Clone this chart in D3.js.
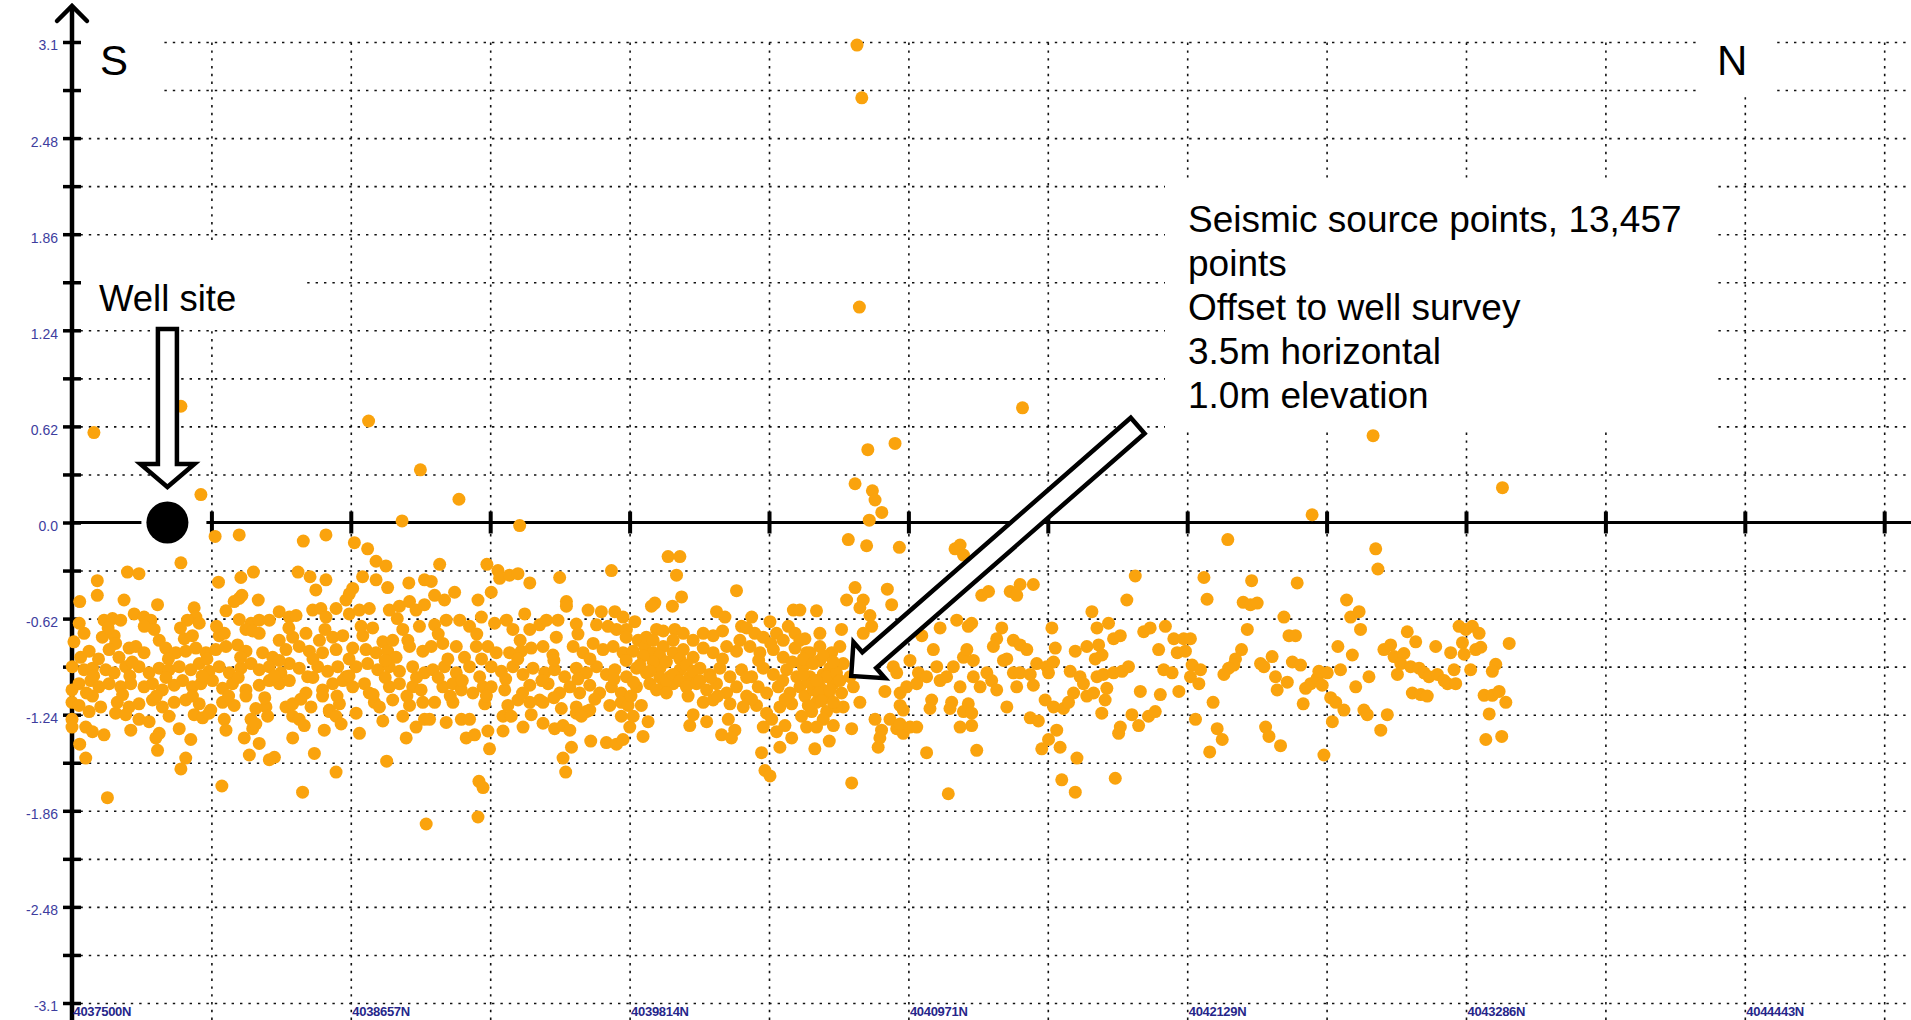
<!DOCTYPE html>
<html><head><meta charset="utf-8">
<script src="https://cdn.jsdelivr.net/npm/d3@7"></script>
<style>
html,body{margin:0;padding:0;background:#fff;overflow:hidden}
svg{display:block}
</style></head><body>
<svg id="chart" width="1911" height="1020"></svg>
<script>
// ---------------- DATA ----------------
// x values: metres north of 4037500N ; y values: offset (m)
const xTickLabels = ["4037500N","4038657N","4039814N","4040971N","4042129N","4043286N","4044443N"];
const xLabelValues = [0,1157.1,2314.3,3471.4,4628.6,5785.7,6942.9];
const xGridValues = [578.6,1157.1,1735.7,2314.3,2892.9,3471.4,4050,4628.6,5207.1,5785.7,6364.3,6942.9,7521.4];
const yTickLabels = ["3.1","2.48","1.86","1.24","0.62","0.0","-0.62","-1.24","-1.86","-2.48","-3.1"];
const yTickValues = [3.1,2.48,1.86,1.24,0.62,0,-0.62,-1.24,-1.86,-2.48,-3.1];
const yGridValues = [3.1,2.79,2.48,2.17,1.86,1.55,1.24,0.93,0.62,0.31,0,-0.31,-0.62,-0.93,-1.24,-1.55,-1.86,-2.17,-2.48,-2.79,-3.1];
const compassLabels = ["S","N"];
const wellSite = [396, 0];
const wellLabel = "Well site";
const noteLines = ["Seismic source points, 13,457","points","Offset to well survey","3.5m horizontal","1.0m elevation"];
const noteArrowTip = [3234, -0.99];
const noteArrowTail = [4423, 0.625];

const pointsScatter = [[3258,3.08],[3278,2.74],[3268,1.39],[91,0.58],[452,0.75],[535,0.18],[1231,0.655],[1446,0.34],[1370,0.01],[1606,0.15],[1858,-0.02],[3945,0.74],[3303,0.47],[3416,0.51],[3250,0.25],[3322,0.205],[3333,0.145],[3361,0.065],[3309,0.015],[3222,-0.11],[3298,-0.15],[3434,-0.16],[3665,-0.17],[3686,-0.145],[3700,-0.21],[4413,-0.345],[4378,-0.50],[4797,-0.11],[5147,0.05],[5400,0.56],[5937,0.225],[5411,-0.17],[5420,-0.30]];

const pointsSouth = [[594,-0.09],[694,-0.08],[960,-0.12],[1054,-0.08],[1172,-0.13],[1227,-0.17],[452,-0.26],[230,-0.32],[278,-0.33],[105,-0.375],[105,-0.47],[32,-0.51],[608,-0.385],[701,-0.355],[753,-0.32],[938,-0.32],[988,-0.35],[1054,-0.37],[1262,-0.25],[1303,-0.28],[1206,-0.35],[1262,-0.37],[1310,-0.42],[1398,-0.39],[1463,-0.37],[216,-0.50],[355,-0.53],[694,-0.49],[705,-0.47],[773,-0.50],[673,-0.51],[639,-0.57],[507,-0.55],[1012,-0.435],[1165,-0.425],[1151,-0.46],[1137,-0.50],
[133,-0.63],[168,-0.62],[202,-0.63],[258,-0.59],[299,-0.61],[327,-0.63],[514,-0.61],[479,-0.63],[528,-0.65],[694,-0.625],[743,-0.65],[777,-0.63],[819,-0.63],[860,-0.575],[902,-0.61],[930,-0.60],[999,-0.565],[1033,-0.555],[1054,-0.61],[1096,-0.555],[1151,-0.59],[1193,-0.565],[1234,-0.555],[1317,-0.565],[1359,-0.54],[1401,-0.51],[1428,-0.565],[1463,-0.53],
[8,-0.77],[50,-0.715],[126,-0.74],[175,-0.73],[181,-0.78],[341,-0.69],[362,-0.76],[466,-0.75],[500,-0.73],[611,-0.73],[632,-0.715],[722,-0.69],[777,-0.715],[860,-0.76],[916,-0.74],[971,-0.715],[1027,-0.76],[1082,-0.74],[1124,-0.73],[1207,-0.73],[1248,-0.68],[1290,-0.77],[1331,-0.76],[1373,-0.69],[1394,-0.76],[1442,-0.67],
[36,-0.87],[71,-0.83],[154,-0.82],[195,-0.87],[237,-0.81],[265,-0.80],[299,-0.84],[389,-0.81],[431,-0.84],[472,-0.83],[514,-0.81],[556,-0.84],[597,-0.82],[639,-0.80],[687,-0.79],[722,-0.83],[791,-0.84],[833,-0.87],[888,-0.82],[943,-0.80],[985,-0.83],[1040,-0.84],[1096,-0.82],[1165,-0.81],[1220,-0.82],[1262,-0.84],[1310,-0.83],[1345,-0.87],[1401,-0.80],[1456,-0.83],
[1,-0.93],[50,-0.95],[85,-0.94],[140,-0.95],[175,-0.97],[223,-0.93],[278,-0.93],[320,-0.97],[362,-0.94],[403,-0.95],[445,-0.93],[493,-0.95],[528,-0.91],[569,-0.96],[611,-0.93],[653,-0.97],[701,-0.94],[743,-0.91],[777,-0.95],[819,-0.93],[867,-0.97],[902,-0.91],[943,-0.94],[978,-0.995],[1020,-0.93],[1061,-0.96],[1103,-0.93],[1137,-0.995],[1179,-0.93],[1227,-0.91],[1269,-0.95],[1317,-0.93],[1359,-0.96],[1414,-0.93],[1463,-0.97],
[0,-1.08],[29,-1.04],[78,-1.02],[112,-1.06],[154,-1.04],[202,-1.06],[244,-1.04],[299,-1.06],[334,-1.04],[375,-1.08],[424,-1.05],[459,-1.02],[500,-1.06],[535,-1.04],[583,-1.02],[625,-1.07],[666,-1.04],[722,-1.08],[777,-1.05],[819,-1.02],[860,-1.04],[902,-1.02],[971,-1.10],[1040,-1.08],[1082,-1.04],[1124,-1.02],[1165,-1.06],[1214,-1.04],[1234,-1.10],[1317,-1.06],[1359,-1.04],[1414,-1.06],[1449,-1.08],
[0,-1.16],[29,-1.18],[85,-1.12],[119,-1.19],[188,-1.16],[237,-1.19],[278,-1.17],[334,-1.145],[375,-1.19],[424,-1.16],[472,-1.145],[528,-1.17],[576,-1.21],[625,-1.16],[673,-1.18],[722,-1.12],[763,-1.20],[805,-1.19],[888,-1.19],[916,-1.17],[992,-1.19],[1040,-1.12],[1068,-1.21],[1110,-1.17],[1255,-1.16],[1276,-1.19],[1331,-1.145],[1401,-1.18],[1456,-1.16],
[0,-1.27],[0,-1.32],[71,-1.22],[57,-1.32],[85,-1.35],[133,-1.37],[181,-1.23],[223,-1.24],[244,-1.34],[278,-1.27],[320,-1.285],[362,-1.36],[348,-1.39],[403,-1.25],[445,-1.33],[507,-1.24],[542,-1.26],[569,-1.23],[632,-1.27],[639,-1.34],[743,-1.27],[750,-1.33],[763,-1.30],[812,-1.25],[916,-1.25],[943,-1.27],[964,-1.31],[1047,-1.34],[1068,-1.22],[1096,-1.25],[1117,-1.30],[1179,-1.23],[1193,-1.36],[1290,-1.28],[1373,-1.25],[1428,-1.32],[1463,-1.27],
[32,-1.43],[57,-1.52],[147,-1.775],[355,-1.47],[452,-1.59],[472,-1.52],[493,-1.40],[622,-1.70],[715,-1.39],[736,-1.50],[777,-1.425],[819,-1.53],[840,-1.515],[916,-1.39],[957,-1.74],[1006,-1.49],[1096,-1.61],[1306,-1.54],[1387,-1.39],[1470,-1.945]];

const pointsCentral = [[1526,-0.27],[1491,-0.38],[1722,-0.27],[1768,-0.31],[1775,-0.36],[1816,-0.34],[1851,-0.33],[1900,-0.39],[2024,-0.355],[2239,-0.31],[2474,-0.22],[2523,-0.22],[2509,-0.34],[2530,-0.48],[2492,-0.54],[2419,-0.52],[2405,-0.54],[2758,-0.44],[1685,-0.50],[1740,-0.45],[1505,-0.47],[1588,-0.45],[1546,-0.50],[2052,-0.51],[2052,-0.54],[1879,-0.59],[2142,-0.565],[2197,-0.575],[2253,-0.575],[2287,-0.61],[2093,-0.655],[2336,-0.64],[2675,-0.575],[2710,-0.61],[2821,-0.61],[2897,-0.64],[2994,-0.565],[2779,-0.67],[2834,-0.715],[2973,-0.67],
[1505,-0.66],[1553,-0.63],[1609,-0.63],[1650,-0.67],[1699,-0.61],[1754,-0.65],[1803,-0.63],[1830,-0.69],[1900,-0.69],[1941,-0.66],[1969,-0.63],[2017,-0.63],[2010,-0.74],[2177,-0.66],[2225,-0.67],[2260,-0.69],[2301,-0.69],[2350,-0.76],[2426,-0.69],[2454,-0.70],[2502,-0.69],[2537,-0.715],[2578,-0.76],[2620,-0.715],[2661,-0.73],[2772,-0.76],[2869,-0.74],[2924,-0.715],[2952,-0.76],[3001,-0.715],
[1491,-0.80],[1539,-0.78],[1595,-0.80],[1629,-0.87],[1678,-0.80],[1726,-0.80],[1761,-0.84],[1816,-0.84],[1865,-0.83],[1906,-0.81],[1955,-0.80],[1996,-0.855],[2080,-0.80],[2121,-0.84],[2163,-0.78],[2204,-0.82],[2246,-0.80],[2287,-0.84],[2329,-0.83],[2377,-0.80],[2412,-0.84],[2454,-0.80],[2495,-0.84],[2537,-0.82],[2578,-0.87],[2620,-0.81],[2661,-0.84],[2717,-0.80],[2758,-0.83],[2814,-0.80],[2855,-0.84],[2911,-0.82],[2952,-0.87],[3001,-0.81],
[1498,-0.95],[1546,-0.93],[1595,-0.97],[1650,-0.93],[1692,-0.995],[1740,-0.93],[1782,-0.96],[1830,-0.93],[1872,-0.98],[1913,-0.94],[1962,-0.97],[2003,-0.95],[2045,-0.995],[2093,-0.94],[2135,-0.97],[2177,-0.93],[2218,-0.98],[2253,-0.95],[2301,-0.995],[2343,-0.94],[2384,-0.97],[2440,-0.94],[2481,-0.995],[2523,-0.95],[2564,-0.995],[2606,-0.94],[2647,-0.98],[2689,-0.94],[2731,-0.995],[2779,-0.95],[2821,-0.995],[2869,-0.94],[2911,-0.98],[2966,-0.95],[3008,-0.995],
[1505,-1.16],[1539,-1.06],[1581,-1.04],[1616,-1.08],[1664,-1.10],[1706,-1.06],[1740,-1.06],[1796,-1.08],[1851,-1.145],[1900,-1.05],[1941,-1.145],[1976,-1.04],[2024,-1.10],[2066,-1.06],[2107,-1.10],[2149,-1.05],[2190,-1.10],[2239,-1.06],[2280,-1.10],[2343,-1.06],[2398,-1.04],[2454,-1.06],[2495,-1.04],[2557,-1.12],[2592,-1.04],[2634,-1.08],[2675,-1.04],[2717,-1.10],[2758,-1.06],[2800,-1.12],[2848,-1.06],[2883,-1.10],[2931,-1.06],[2980,-1.10],
[1581,-1.16],[1713,-1.17],[1809,-1.18],[1900,-1.16],[1955,-1.16],[2031,-1.20],[2093,-1.19],[2135,-1.22],[2232,-1.18],[2280,-1.16],[2308,-1.18],[2363,-1.18],[2620,-1.16],[2661,-1.145],[2731,-1.17],[2786,-1.19],[2841,-1.18],[2883,-1.23],[2938,-1.19],[2987,-1.17],
[1484,-1.27],[1553,-1.29],[1616,-1.27],[1650,-1.27],[1636,-1.39],[1671,-1.37],[1726,-1.345],[1789,-1.25],[1823,-1.25],[1789,-1.345],[1872,-1.32],[1906,-1.24],[1955,-1.295],[2003,-1.33],[2038,-1.31],[2066,-1.34],[2093,-1.23],[2149,-1.21],[2114,-1.25],[2280,-1.25],[2315,-1.32],[2329,-1.25],[2391,-1.285],[2370,-1.38],[2564,-1.31],[2578,-1.24],[2634,-1.285],[2696,-1.37],[2724,-1.27],[2751,-1.34],[2737,-1.39],[2869,-1.32],[2904,-1.27],[2924,-1.35],[2959,-1.31],[2987,-1.39],
[1733,-1.46],[2073,-1.45],[2038,-1.52],[2049,-1.61],[2153,-1.41],[2218,-1.42],[2260,-1.43],[2287,-1.40],[2862,-1.485],[2876,-1.60],[2897,-1.635],[2938,-1.45],[1689,-1.67],[1706,-1.71],[1685,-1.90]];

const pointsArrow = [[3250,-0.42],[3215,-0.50],[3284,-0.50],[3384,-0.43],[3402,-0.53],[3270,-0.55],[3312,-0.60],[3090,-0.57],[3021,-0.565],[3319,-0.67],[3284,-0.715],[3194,-0.69],[3104,-0.715],[3042,-0.75],[3776,-0.47],[3804,-0.445],[3894,-0.445],[3935,-0.40],[3990,-0.40],[3921,-0.47],[3672,-0.63],[3603,-0.68],[3720,-0.67],[3734,-0.65],[3527,-0.73],[3859,-0.68],[3838,-0.75],[4233,-0.575],[4254,-0.68],[4302,-0.65],[4323,-0.75],[4351,-0.73],[4448,-0.705],[4475,-0.68],[4538,-0.67],[4067,-0.68],[4081,-0.81],[4164,-0.83],[4212,-0.80],[4261,-0.79],[4247,-0.88],[4275,-0.855],[4510,-0.82],
[3021,-0.76],[3049,-0.84],[3035,-0.93],[3063,-0.995],[3021,-1.06],[3042,-1.12],[3070,-1.22],[3028,-1.25],[3104,-0.89],[3118,-0.98],[3104,-1.06],[3090,-1.16],[3153,-0.84],[3146,-0.94],[3160,-1.04],[3139,-1.12],[3132,-1.22],[3160,-1.31],[3187,-0.80],[3201,-0.91],[3194,-1.10],[3201,-1.19],[3243,-1.06],[3270,-1.16],[3236,-1.33],[3143,-1.41],[3083,-1.46],[3236,-1.68],[3333,-1.27],[3374,-1.09],[3360,-1.34],[3346,-1.45],[3353,-1.39],[3395,-1.27],[3423,-1.33],[3450,-1.36],[3437,-1.30],[3478,-1.32],[3506,-1.32],[3409,-0.93],[3423,-0.97],[3437,-1.10],[3464,-1.06],[3437,-1.18],[3450,-1.21],[3478,-0.89],[3513,-0.97],[3506,-1.04],[3547,-0.995],[3575,-0.82],[3589,-0.93],[3603,-1.02],[3568,-1.145],[3561,-1.20],[3630,-0.995],[3658,-0.93],[3651,-1.16],[3644,-1.20],[3686,-1.06],[3700,-0.87],[3714,-0.82],[3741,-0.89],[3741,-0.995],[3720,-1.17],[3700,-1.22],[3734,-1.23],[3686,-1.32],[3734,-1.31],[3769,-1.06],[3797,-0.97],[3817,-1.02],[3838,-1.08],[3824,-0.80],[3866,-0.89],[3880,-0.88],[3907,-0.97],[3935,-0.97],[3977,-0.98],[3921,-1.06],[3990,-1.05],[3880,-1.19],[3907,-0.76],[3935,-0.79],[3963,-0.82],[4004,-0.91],[4046,-0.93],[4074,-0.90],[4053,-0.97],[4039,-1.145],[4074,-1.19],[4115,-1.20],[4136,-1.16],[4157,-1.10],[4143,-0.96],[4184,-0.995],[4198,-1.04],[4212,-1.12],[4240,-1.10],[4254,-0.995],[4281,-0.98],[4323,-0.97],[4358,-0.96],[4385,-0.93],[4295,-1.07],[4288,-1.145],[4274,-1.23],[4399,-1.24],[4434,-1.09],[4517,-1.11],[4531,-0.95],[4468,-1.25],[4496,-1.22],[4427,-1.31],[4351,-1.32],[4344,-1.36],[3977,-1.26],[4011,-1.28],[4087,-1.34],[4053,-1.40],[4025,-1.46],[4101,-1.45],[3547,-1.485],[3755,-1.47],[4171,-1.52],[4108,-1.66],[4164,-1.74],[4330,-1.65],[3637,-1.75],
[3063,-0.84],[3104,-0.80],[3132,-0.995],[3173,-0.97],[3076,-1.08],[3187,-1.02],[3229,-0.995],[3118,-1.27],[3173,-1.19],[3049,-1.32],[3090,-1.32]];

const pointsNorth = [[4698,-0.355],[4711,-0.495],[4896,-0.375],[4861,-0.515],[4891,-0.53],[4919,-0.52],[5085,-0.39],[5030,-0.61],[4878,-0.69],[5051,-0.73],[5078,-0.73],[4573,-0.75],[4614,-0.75],[4642,-0.75],[4587,-0.84],[4621,-0.83],[4566,-0.97],[4594,-1.09],[4649,-0.92],[4684,-0.95],[4642,-0.995],[4677,-1.04],[4663,-1.27],[4736,-1.16],[4753,-1.33],[4774,-1.40],[4722,-1.48],[4854,-0.82],[4829,-0.88],[4822,-0.92],[4801,-0.94],[4781,-0.98],[4933,-0.91],[4947,-0.93],[4981,-0.865],[4995,-0.995],[5002,-1.08],[5044,-1.03],[5065,-0.90],[5099,-0.92],[5110,-1.17],[4954,-1.32],[4968,-1.38],[5016,-1.44],[5120,-1.07],[5141,-1.04],[5168,-1.005],[5175,-0.96],[5210,-0.97],[5189,-1.05],[5196,-1.50],[5224,-1.13],[5245,-1.16],[5279,-1.21],[5231,-1.285],[5265,-0.95],[5254,-0.80],[5314,-0.855],[5290,-0.50],[5307,-0.61],[5342,-0.575],[5348,-0.69],[5328,-1.06],[5362,-1.21],[5376,-1.24],[5383,-0.995],[5432,-1.34],[5459,-1.24],[5445,-0.82],[5473,-0.79],[5487,-0.865],[5501,-0.98],[5528,-0.845],[5515,-0.91],[5542,-0.705],[5577,-0.77],[5556,-0.93],[5591,-0.94],[5612,-0.97],[5632,-0.995],[5667,-0.98],[5695,-1.02],[5709,-1.04],[5743,-1.04],[5563,-1.10],[5598,-1.11],[5625,-1.12],[5660,-0.80],[5722,-0.84],[5736,-0.95],[5757,-0.67],[5785,-0.69],[5812,-0.67],[5840,-0.715],[5771,-0.775],[5778,-0.85],[5805,-0.95],[5826,-0.82],[5847,-0.805],[5909,-0.915],[5895,-0.96],[5861,-1.115],[5895,-1.115],[5923,-1.09],[5951,-1.16],[5882,-1.235],[5965,-0.78],[5868,-1.40],[5934,-1.38]];

// solid core of the dense band (between the rows above)
const pointsDenseCore = [[2384,-0.74],[2412,-0.76],[2440,-0.86],[2467,-0.90],[2495,-0.76],[2523,-0.88],[2550,-0.92],[2578,-0.96],[2412,-0.90],[2440,-1.00],[2467,-1.02],[2495,-0.98],[2523,-1.02],[2550,-1.06],[2398,-0.96],[2426,-1.08],[2467,-1.10],[2370,-0.86],[2357,-0.92],[2606,-1.02],
[3035,-0.88],[3076,-0.91],[3118,-0.86],[3160,-0.90],[3056,-1.03],[3097,-1.10],[3146,-1.08],[3056,-1.18],[3111,-1.15],[3160,-1.16],[3035,-0.98],[3090,-1.02],
[110,-0.88],[250,-0.90],[400,-0.88],[560,-0.88],[700,-0.87],[860,-0.89],[1000,-0.88],[1150,-0.88],[1300,-0.89],[60,-1.10],[210,-1.11],[350,-1.12],[500,-1.12],[650,-1.12],[800,-1.13],[950,-1.14],[1100,-1.12],[1250,-1.11],[1390,-1.12],[150,-0.68],[300,-0.67],[450,-0.68],[600,-0.67],[750,-0.70],[900,-0.68],[1050,-0.69],[1200,-0.67],[1350,-0.62],[30,-0.65],[90,-0.99],[240,-0.99],[390,-1.00],[540,-0.99],[690,-1.00],[840,-0.99],[1000,-1.00],[1150,-0.99],[1300,-1.00],[1430,-1.00],
[1560,-0.88],[1700,-0.88],[1850,-0.88],[2000,-0.89],[2150,-0.88],[2300,-0.89],[2700,-0.88],[2850,-0.89],[2990,-0.90],[1570,-1.12],[1720,-1.12],[1870,-1.10],[2000,-1.13],[2170,-1.14],[2320,-1.12],[2680,-1.12],[2820,-1.14],[2960,-1.14],[1520,-0.72],[1680,-0.72],[1860,-0.76],[2100,-0.72],[2300,-0.74],[2700,-0.70],[2800,-0.68],[2900,-0.78],[1520,-1.00],[1620,-1.02],[1800,-1.01],[1950,-1.02],[2100,-1.01],[2250,-1.01],[2330,-1.03],[2650,-1.00],[2800,-1.00],[2950,-1.02]];

// ---------------- DRAW ----------------
const W = 1911, H = 1020;
const FONT = "'Liberation Sans', Arial, Helvetica, sans-serif";
const svg = d3.select("#chart");
svg.append("rect").attr("width", W).attr("height", H).attr("fill", "#fff");

const x = d3.scaleLinear().domain([0, 8100]).range([72, 72 + 14 * 139.4]);
const y = d3.scaleLinear().domain([-3.1, 3.1]).range([1003, 42]);
const x0 = x(0), y0 = y(0);

// dotted grid
const gv = svg.append("g").attr("transform", `translate(0,${H})`)
  .call(d3.axisBottom(x).tickValues(xGridValues).tickSize(-(H - y(3.1))).tickFormat(""));
gv.select(".domain").remove();
gv.selectAll("line").attr("stroke", "#111").attr("stroke-width", 1.6).attr("stroke-dasharray", "2.4,5.4");

const gh = svg.append("g").attr("transform", `translate(${x0},0)`)
  .call(d3.axisLeft(y).tickValues(yGridValues.filter(v => v !== 0)).tickSize(-(W - x0)).tickFormat(""));
gh.select(".domain").remove();
gh.selectAll("line").attr("stroke", "#111").attr("stroke-width", 1.6).attr("stroke-dasharray", "2.4,6");

// white label backgrounds
const bg = svg.append("g").attr("fill", "#fff");
bg.append("rect").attr("x", x0 + 2).attr("y", 28).attr("width", 86).attr("height", 68);
bg.append("rect").attr("x", 1697).attr("y", 28).attr("width", 79).attr("height", 68);
bg.append("rect").attr("x", x0 + 2).attr("y", 245).attr("width", 229).attr("height", 82);
bg.append("rect").attr("x", 1165).attr("y", 183).attr("width", 550).attr("height", 249);

// x axis line + ticks
svg.append("line").attr("x1", x0).attr("x2", W).attr("y1", y0).attr("y2", y0)
  .attr("stroke", "#000").attr("stroke-width", 3);
const xt = svg.append("g").attr("transform", `translate(0,${y0})`)
  .call(d3.axisBottom(x).tickValues(xGridValues).tickSize(11).tickFormat(""));
xt.select(".domain").remove();
xt.selectAll("line").attr("y1", -11).attr("stroke", "#000").attr("stroke-width", 4);

// y axis line + ticks + arrow
svg.append("line").attr("x1", x0).attr("x2", x0).attr("y1", 6).attr("y2", H)
  .attr("stroke", "#000").attr("stroke-width", 4.5);
svg.append("path").attr("d", `M${x0 - 15},21 L${x0},6 L${x0 + 15},21`)
  .attr("fill", "none").attr("stroke", "#000").attr("stroke-width", 4.5).attr("stroke-linecap", "round");
const yt = svg.append("g").attr("transform", `translate(${x0},0)`)
  .call(d3.axisLeft(y).tickValues(yGridValues).tickSize(9).tickFormat(""));
yt.select(".domain").remove();
yt.selectAll("line").attr("x1", 9).attr("stroke", "#000").attr("stroke-width", 3.5);

// y labels
const yl = svg.append("g").attr("transform", `translate(${x0},0)`)
  .call(d3.axisLeft(y).tickValues(yTickValues).tickFormat((d, i) => yTickLabels[i]).tickSize(0).tickPadding(14));
yl.select(".domain").remove();
yl.selectAll("text").attr("dy", "0.57em").attr("fill", "#3d3d9e")
  .style("font-family", FONT).style("font-size", "14px");

// x labels
const xl = svg.append("g").attr("transform", `translate(0,1007)`)
  .call(d3.axisBottom(x).tickValues(xLabelValues).tickFormat((d, i) => xTickLabels[i]).tickSize(0).tickPadding(0));
xl.select(".domain").remove();
xl.selectAll("text").attr("text-anchor", "start").attr("x", 1).attr("fill", "#26268a")
  .style("font-family", FONT).style("font-size", "13px").style("font-weight", "bold").style("letter-spacing", "-0.3px");

// points
const allPoints = [].concat(pointsSouth, pointsCentral, pointsArrow, pointsNorth, pointsDenseCore, pointsScatter);
svg.append("g").selectAll("circle").data(allPoints).join("circle")
  .attr("cx", d => x(d[0])).attr("cy", d => y(d[1])).attr("r", 6.5).attr("fill", "#FAA30D");

// well site
const wx = x(wellSite[0]), wy = y(wellSite[1]);
svg.append("rect").attr("x", wx - 26).attr("y", wy - 6).attr("width", 65).attr("height", 12).attr("fill", "#fff");
svg.append("circle").attr("cx", wx).attr("cy", wy).attr("r", 21).attr("fill", "#000");

// well arrow (hollow down arrow)
svg.append("path")
  .attr("d", `M${wx - 9.5},${wy - 193.5} H${wx + 9.5} V${wy - 58.5} H${wx + 27} L${wx},${wy - 35.5} L${wx - 27},${wy - 58.5} H${wx - 9.5} Z`)
  .attr("fill", "#fff").attr("stroke", "#000").attr("stroke-width", 4.5).attr("stroke-linejoin", "miter");

// annotation arrow (hollow diagonal arrow)
{
  const tx = x(noteArrowTip[0]), ty = y(noteArrowTip[1]);
  const sx = x(noteArrowTail[0]), sy = y(noteArrowTail[1]);
  const L = Math.hypot(tx - sx, ty - sy);
  const ux = (tx - sx) / L, uy = (ty - sy) / L;
  const nx = -uy, ny = ux;
  const hw = 10.5, hh = 24, hl = 24;
  const bx = tx - hl * ux, by = ty - hl * uy;
  const pts = [
    [sx - hw * nx, sy - hw * ny],
    [bx - hw * nx, by - hw * ny],
    [bx - hh * nx, by - hh * ny],
    [tx, ty],
    [bx + hh * nx, by + hh * ny],
    [bx + hw * nx, by + hw * ny],
    [sx + hw * nx, sy + hw * ny]
  ];
  svg.append("path").attr("d", "M" + pts.map(p => p.join(",")).join("L") + "Z")
    .attr("fill", "#fff").attr("stroke", "#000").attr("stroke-width", 4.5).attr("stroke-linejoin", "miter");
}

// texts
const tg = svg.append("g").style("font-family", FONT).attr("fill", "#000");
tg.append("text").attr("x", 100).attr("y", 75).style("font-size", "42px").text(compassLabels[0]);
tg.append("text").attr("x", 1717).attr("y", 75).style("font-size", "42px").text(compassLabels[1]);
tg.append("text").attr("x", 99).attr("y", 311).style("font-size", "36.5px").text(wellLabel);
tg.selectAll("text.note").data(noteLines).join("text").attr("class", "note")
  .attr("x", 1188).attr("y", (d, i) => 232 + 44 * i).style("font-size", "37px").text(d => d);
</script>
</body></html>
